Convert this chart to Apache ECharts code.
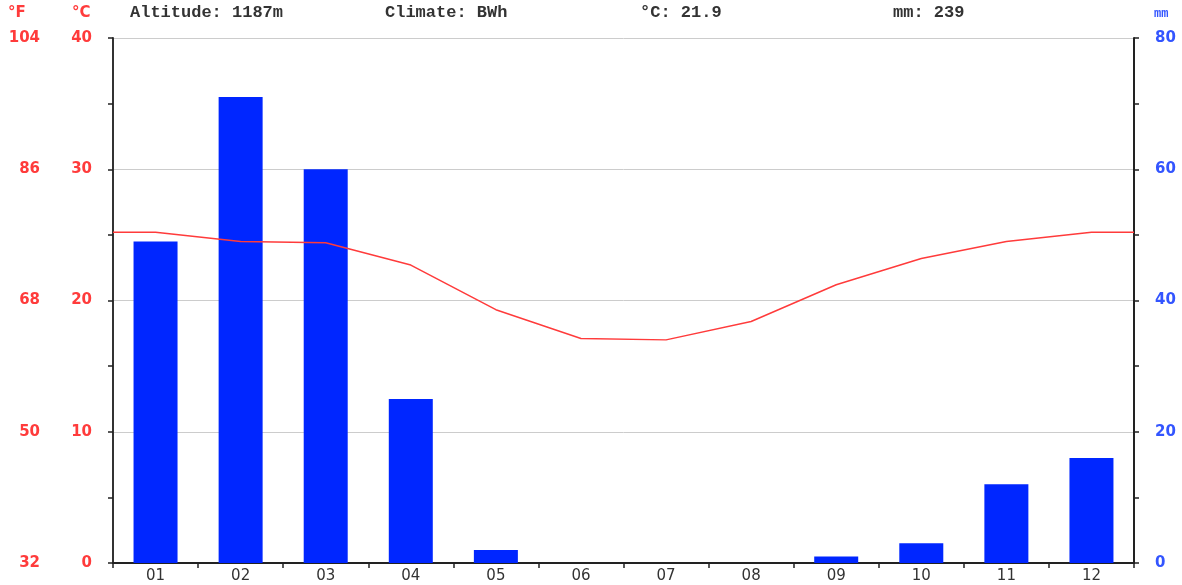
<!DOCTYPE html>
<html>
<head>
<meta charset="utf-8">
<script src="https://cdn.jsdelivr.net/npm/echarts@6/dist/echarts.min.js"></script>
<style>
html,body{margin:0;padding:0;background:#fff;}
#chart{width:1182px;height:585px;}
</style>
</head>
<body>
<div id="chart"></div>
<script>
const months = ['01','02','03','04','05','06','07','08','09','10','11','12'];
const precipitation = [49, 71, 60, 25, 2, 0, 0, 0, 1, 3, 12, 16];
const temperature = [25.2, 24.5, 24.4, 22.7, 19.3, 17.1, 17.0, 18.4, 21.2, 23.2, 24.5, 25.2];
const edgeTemperature = [25.2, 25.2];
const altitudeText = 'Altitude: 1187m';
const climateText = 'Climate: BWh';
const meanTempText = '°C: 21.9';
const totalRainText = 'mm: 239';

const red = '#ff3b3b';
const blue = '#3355ff';
const monoFont = '"Liberation Mono", "DejaVu Sans Mono", monospace';
const sansFont = '"DejaVu Sans", sans-serif';

const lineData = [[0, edgeTemperature[0]]];
temperature.forEach((t, i) => lineData.push([i + 0.5, t]));
lineData.push([12, edgeTemperature[1]]);

const chart = echarts.init(document.getElementById('chart'), null, {renderer: 'canvas'});
chart.setOption({
  animation: false,
  backgroundColor: '#fff',
  grid: {left: 113, right: 48, top: 38, bottom: 22, containLabel: false},
  xAxis: [
    {
      type: 'category', data: months, boundaryGap: true,
      axisLine: {show: true, lineStyle: {color: '#222', width: 2}},
      axisTick: {show: true, length: 5, lineStyle: {color: '#222', width: 1.5}},
      axisLabel: {color: '#333', fontFamily: sansFont, fontSize: 15, margin: 6},
      splitLine: {show: false}
    },
    {
      type: 'value', min: 0, max: 12, show: false
    }
  ],
  yAxis: [
    {
      type: 'value', min: 0, max: 40, interval: 10, position: 'left',
      axisLine: {show: true, lineStyle: {color: '#333', width: 2}},
      axisTick: {show: true, length: 5, lineStyle: {color: '#222', width: 1.5}},
      minorTick: {show: true, splitNumber: 2, length: 5, lineStyle: {color: '#222', width: 1.5}},
      axisLabel: {color: red, fontFamily: sansFont, fontSize: 15, fontWeight: 'bold', margin: 21, padding: [3, 0, 0, 0]},
      splitLine: {show: true, lineStyle: {color: '#cccccc', width: 1}}
    },
    {
      type: 'value', min: 32, max: 104, interval: 18, position: 'left', offset: 65,
      axisLine: {show: false}, axisTick: {show: false},
      axisLabel: {color: red, fontFamily: sansFont, fontSize: 15, fontWeight: 'bold', margin: 8, padding: [3, 0, 0, 0]},
      splitLine: {show: false}
    },
    {
      type: 'value', min: 0, max: 80, interval: 20, position: 'right',
      axisLine: {show: true, lineStyle: {color: '#222', width: 2}},
      axisTick: {show: true, length: 5, lineStyle: {color: '#222', width: 1.5}},
      minorTick: {show: true, splitNumber: 2, length: 5, lineStyle: {color: '#222', width: 1.5}},
      axisLabel: {color: blue, fontFamily: sansFont, fontSize: 15, fontWeight: 'bold', margin: 21, padding: [3, 0, 0, 0]},
      splitLine: {show: false}
    }
  ],
  graphic: [
    {type: 'text', left: 8, top: 6, style: {text: '°F', fill: red, font: 'bold 15px ' + sansFont}},
    {type: 'text', left: 72, top: 6, style: {text: '°C', fill: red, font: 'bold 15px ' + sansFont}},
    {type: 'text', left: 130, top: 4, style: {text: altitudeText, fill: '#333', font: 'bold 17px ' + monoFont}},
    {type: 'text', left: 385, top: 4, style: {text: climateText, fill: '#333', font: 'bold 17px ' + monoFont}},
    {type: 'text', left: 640, top: 4, style: {text: meanTempText, fill: '#333', font: 'bold 17px ' + monoFont}},
    {type: 'text', left: 893, top: 4, style: {text: totalRainText, fill: '#333', font: 'bold 17px ' + monoFont}},
    {type: 'text', left: 1154, top: 8, style: {text: 'mm', fill: blue, font: 'bold 12px ' + monoFont}}
  ],
  series: [
    {
      type: 'bar', name: 'mm', xAxisIndex: 0, yAxisIndex: 2, data: precipitation,
      barWidth: 44, itemStyle: {color: '#0026ff'}, silent: true
    },
    {
      type: 'line', name: '°C', xAxisIndex: 1, yAxisIndex: 0, data: lineData,
      showSymbol: false, symbol: 'none', lineStyle: {color: red, width: 1.5}, silent: true, z: 5
    }
  ]
});
</script>
</body>
</html>
